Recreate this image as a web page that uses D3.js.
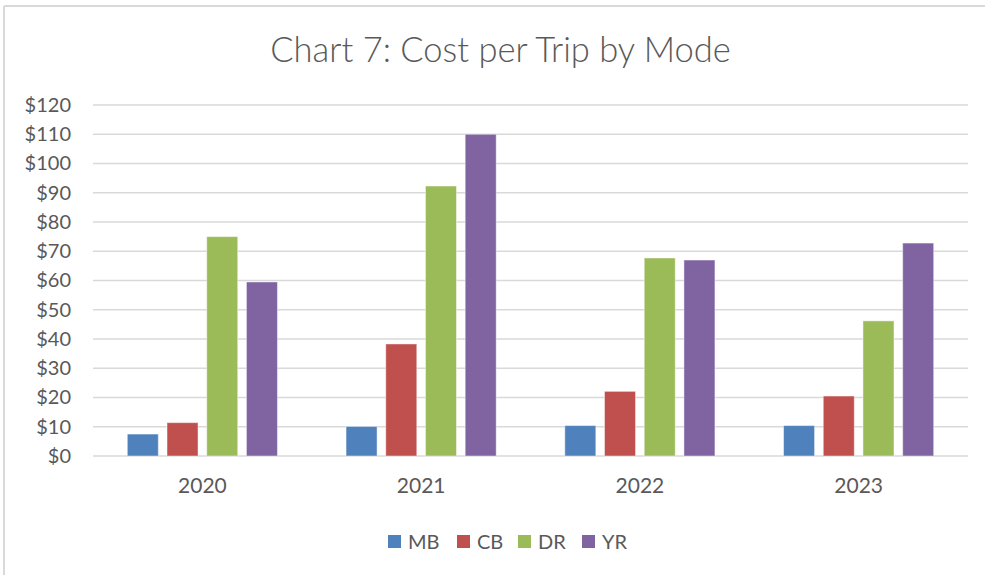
<!DOCTYPE html>
<html>
<head>
<meta charset="utf-8">
<script src="https://cdn.jsdelivr.net/npm/d3@7"></script>
<style>
  html, body { margin: 0; padding: 0; background: #fff; }
  svg { display: block; font-family: Lato, "Open Sans", sans-serif; }
</style>
</head>
<body>
<svg id="chart" width="985" height="575"></svg>
<script>
const years = ["2020", "2021", "2022", "2023"];
const modes = ["MB", "CB", "DR", "YR"];
const MB = [7.5, 10.1, 10.4, 10.4];
const CB = [11.4, 38.3, 22.1, 20.5];
const DR = [75.0, 92.3, 67.7, 46.2];
const YR = [59.5, 110.0, 67.0, 72.8];
const yTicks = [0, 10, 20, 30, 40, 50, 60, 70, 80, 90, 100, 110, 120];
const colors = ["#4F81BD", "#C0504D", "#9BBB59", "#8064A2"];
const title = "Chart 7: Cost per Trip by Mode";

const seriesValues = [MB, CB, DR, YR];
const table = years.map((yr, i) => ({ year: yr, values: modes.map((m, j) => ({ mode: m, value: seriesValues[j][i], color: colors[j] })) }));

const svg = d3.select("#chart");
const W = 985, H = 575;
const plot = { left: 93, right: 968, top: 105, bottom: 456 };

// chart frame (top and left edges visible)
svg.append("line").attr("x1", 4).attr("x2", W).attr("y1", 6).attr("y2", 6)
  .attr("stroke", "#d9d9d9").attr("stroke-width", 2);
svg.append("line").attr("x1", 4).attr("x2", 4).attr("y1", 6).attr("y2", H)
  .attr("stroke", "#d9d9d9").attr("stroke-width", 2);

// title
svg.append("text").attr("x", 500.5).attr("y", 62)
  .attr("text-anchor", "middle").attr("fill", "#595959")
  .attr("font-size", 34.5).attr("font-weight", 300).text(title);

const x0 = d3.scaleBand().domain(years).range([plot.left, plot.right]).padding(0);
const x1 = d3.scaleBand().domain(modes).range([0, x0.bandwidth()])
  .paddingInner(0.219).paddingOuter(0.864);
const y = d3.scaleLinear().domain([0, 120]).range([plot.bottom, plot.top]);

// gridlines
svg.append("g").selectAll("line").data(yTicks).join("line")
  .attr("x1", plot.left).attr("x2", plot.right)
  .attr("y1", d => y(d)).attr("y2", d => y(d))
  .attr("stroke", "#d9d9d9").attr("stroke-width", 1.5);

// y axis labels
const yAxis = d3.axisLeft(y).tickValues(yTicks).tickSize(0).tickPadding(0)
  .tickFormat(d => "$" + d);
const yg = svg.append("g").attr("transform", `translate(71,0)`).call(yAxis);
yg.select(".domain").remove();
yg.selectAll("text").attr("fill", "#595959").attr("font-size", 20)
  .attr("font-family", "Lato, 'Open Sans', sans-serif");

// bars
const groups = svg.append("g").selectAll("g").data(table).join("g")
  .attr("transform", d => `translate(${x0(d.year)},0)`);
groups.selectAll("rect").data(d => d.values).join("rect")
  .attr("x", d => x1(d.mode)).attr("width", x1.bandwidth())
  .attr("y", d => y(d.value)).attr("height", d => y(0) - y(d.value))
  .attr("fill", d => d.color)
  .attr("stroke", "#ffffff").attr("stroke-opacity", 0.45).attr("stroke-width", 1);

// x axis labels
const xAxis = d3.axisBottom(x0).tickSize(0).tickPadding(0);
const xg = svg.append("g").attr("transform", `translate(0,${plot.bottom + 22})`).call(xAxis);
xg.select(".domain").remove();
xg.selectAll("text").attr("fill", "#595959").attr("font-size", 21)
  .attr("font-family", "Lato, 'Open Sans', sans-serif");

// legend
const legendX = [388, 457, 518, 582];
const lg = svg.append("g").selectAll("g").data(modes).join("g")
  .attr("transform", (d, i) => `translate(${legendX[i]},535)`);
lg.append("rect").attr("width", 13).attr("height", 13).attr("fill", (d, i) => colors[i]);
lg.append("text").attr("x", 20).attr("y", 6.5).attr("dy", "0.35em")
  .attr("fill", "#595959").attr("font-size", 20).text(d => d);
</script>
</body>
</html>
